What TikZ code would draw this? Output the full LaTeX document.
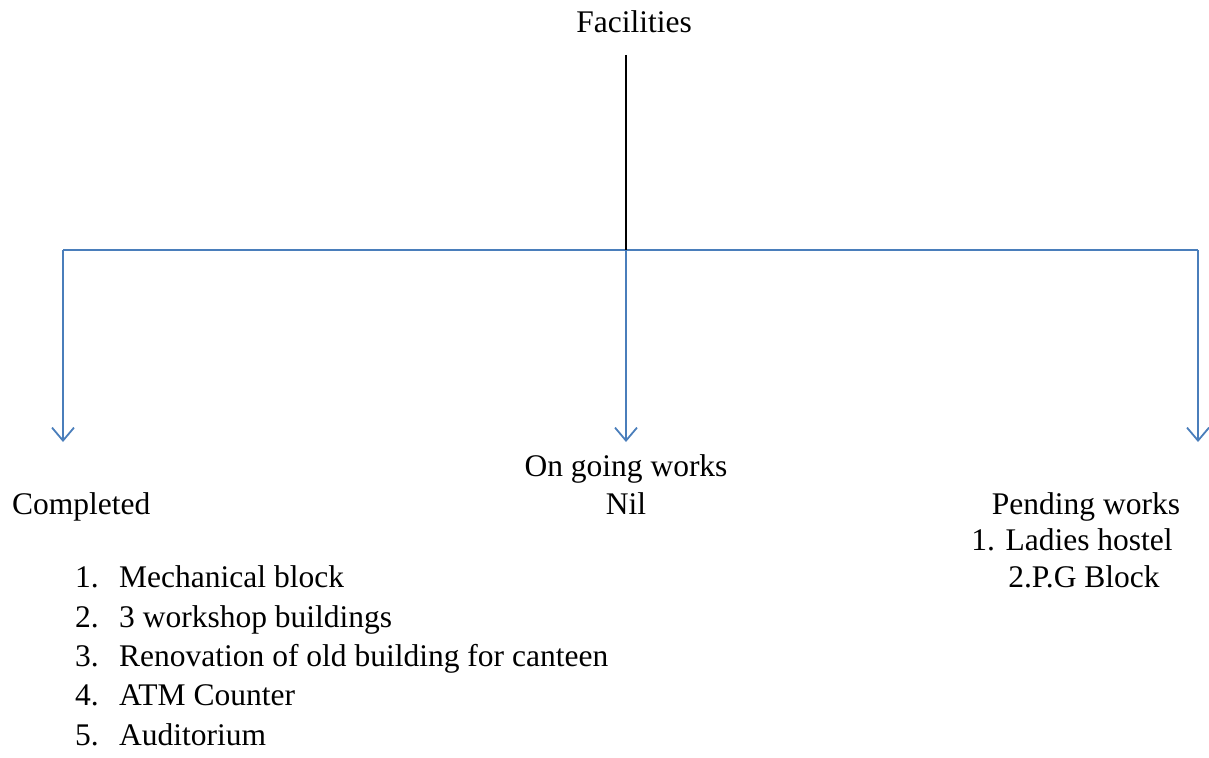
\documentclass[tikz,border=0pt]{standalone}
\usepackage{fontspec}
\setmainfont{Liberation Serif}
\usetikzlibrary{arrows.meta}
\definecolor{lineblue}{HTML}{4A7EBB}
\begin{document}
\begin{tikzpicture}[x=1pt,y=-1pt,
  lbl/.style={inner sep=0pt,text height=22pt,text depth=7pt,font=\fontsize{31.5}{36}\selectfont},
  conn/.style={draw=lineblue,line width=1.8pt},
  arr/.style={conn,-{Straight Barb[length=13pt,width=22pt,line width=1.8pt]}}]
\useasboundingbox (0,0) rectangle (1209,757);
\node[lbl,anchor=center] (fac) at (634,25) {Facilities};
\coordinate (top) at (626,55);
\coordinate (mid) at (626,250);
\coordinate (hl) at (63,250);
\coordinate (hr) at (1198,250);
\coordinate (al) at (63,442);
\coordinate (am) at (626,442);
\coordinate (ar) at (1198,442);
\draw[conn] (hl) -- (hr);
\draw[arr] (hl) -- (al);
\draw[arr] (mid) -- (am);
\draw[arr] (hr) -- (ar);
\draw[black,line width=1.8pt] (top) -- (mid);
\node[lbl,anchor=west] (comp) at (12,507) {Completed};
\node[lbl] (ong) at (626,469) {On going works};
\node[lbl] (nil) at (626,507) {Nil};
\node[lbl] (pend) at (1086,507) {Pending works};
\node[lbl] (p1) at (1072,543) {1. Ladies hostel};
\node[lbl] (p2) at (1084,580) {2.P.G Block};
\foreach \n/\t/\y in {1/Mechanical block/580,2/3 workshop buildings/620,3/Renovation of old building for canteen/659,4/ATM Counter/698,5/Auditorium/738}{
  \node[lbl,anchor=west] (n\n) at (75,\y) {\n.};
  \node[lbl,anchor=west] (t\n) at (119,\y) {\t};
}
\end{tikzpicture}
\end{document}
